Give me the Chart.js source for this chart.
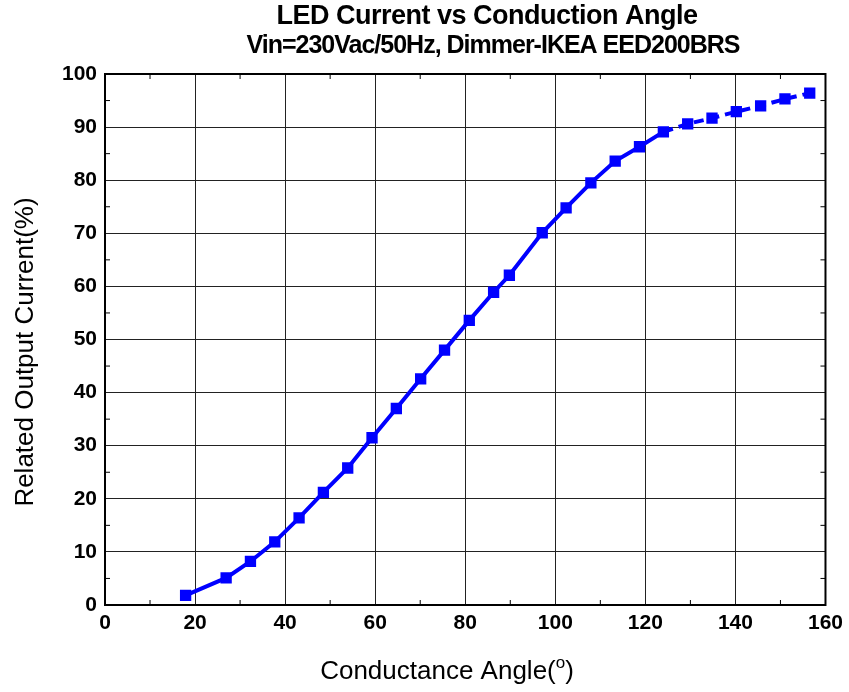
<!DOCTYPE html>
<html>
<head>
<meta charset="utf-8">
<script src="https://cdn.jsdelivr.net/npm/chart.js@4.4.1/dist/chart.umd.min.js"></script>
<style>
  html, body { margin: 0; padding: 0; background: #fff; }
  #wrap { width: 849px; height: 692px; }
</style>
</head>
<body>
<div id="wrap"><canvas id="chart" width="849" height="692"></canvas></div>
<script>
// values
const angle = [17.9, 26.9, 32.3, 37.7, 43.1, 48.5, 53.9, 59.3, 64.7, 70.1, 75.4, 80.9, 86.3,
  89.8, 97.1, 102.4, 107.9, 113.3, 118.7, 124.0, 129.4, 134.8, 140.2, 145.6, 151.0, 156.5];
const current = [1.8, 5.1, 8.2, 11.9, 16.4, 21.2, 25.8, 31.5, 37.0, 42.6, 48.0, 53.6, 58.9,
  62.1, 70.1, 74.8, 79.5, 83.6, 86.3, 89.1, 90.6, 91.7, 92.9, 94.0, 95.3, 96.4];
const xTicks = [0, 20, 40, 60, 80, 100, 120, 140, 160];
const yTicks = [0, 10, 20, 30, 40, 50, 60, 70, 80, 90, 100];
const titleLines = ["LED Current vs Conduction Angle", "Vin=230Vac/50Hz, Dimmer-IKEA EED200BRS"];
const xTitle = ["Conductance Angle(", "o", ")"];
const yTitle = "Related Output Current(%)";
const dashFrom = 124; // line turns dashed after this angle

const FONT = "'Liberation Sans', Arial, sans-serif";

// titles + box frame + small inward ticks
const framePlugin = {
  id: "frame",
  beforeDatasetsDraw(chart) {
    const { ctx, chartArea: a, scales } = chart;
    ctx.save();
    ctx.strokeStyle = "#000";
    ctx.lineWidth = 1;
    ctx.beginPath();
    for (let v = 10; v < 160; v += 20) {
      const px = scales.x.getPixelForValue(v);
      ctx.moveTo(px, a.bottom); ctx.lineTo(px, a.bottom - 5);
      ctx.moveTo(px, a.top); ctx.lineTo(px, a.top + 5);
    }
    for (let v = 5; v < 100; v += 10) {
      const py = scales.y.getPixelForValue(v);
      ctx.moveTo(a.left, py); ctx.lineTo(a.left + 5, py);
      ctx.moveTo(a.right, py); ctx.lineTo(a.right - 5, py);
    }
    ctx.stroke();
    ctx.lineWidth = 2;
    ctx.strokeRect(a.left, a.top, a.right - a.left, a.bottom - a.top);
    ctx.restore();
  },
  afterDraw(chart) {
    const ctx = chart.ctx;
    ctx.save();
    ctx.fillStyle = "#000";
    ctx.textBaseline = "middle";

    // main title (tight letters like the original)
    ctx.textAlign = "center";
    ctx.letterSpacing = "-0.5px";
    ctx.font = "bold 27px " + FONT;
    ctx.fillText(titleLines[0], 487, 17);
    ctx.letterSpacing = "-1px";
    ctx.font = "bold 25px " + FONT;
    ctx.fillText(titleLines[1], 493, 46);
    ctx.letterSpacing = "0px";

    // x title with raised "o"
    ctx.textAlign = "left";
    ctx.font = "26px " + FONT;
    const w0 = ctx.measureText(xTitle[0]).width;
    ctx.font = "17px " + FONT;
    const w1 = ctx.measureText(xTitle[1]).width;
    ctx.font = "26px " + FONT;
    const w2 = ctx.measureText(xTitle[2]).width;
    let x = 447 - (w0 + w1 + w2) / 2;
    ctx.fillText(xTitle[0], x, 672);
    x += w0;
    ctx.font = "17px " + FONT;
    ctx.fillText(xTitle[1], x, 663);
    x += w1;
    ctx.font = "26px " + FONT;
    ctx.fillText(xTitle[2], x, 672);

    // y title
    ctx.translate(26, 352);
    ctx.rotate(-Math.PI / 2);
    ctx.textAlign = "center";
    ctx.fillText(yTitle, 0, 0);
    ctx.restore();
  }
};

const tickFont = { family: FONT, size: 21, weight: "bold" };

new Chart(document.getElementById("chart").getContext("2d"), {
  type: "line",
  data: {
    datasets: [{
      data: angle.map((a, i) => ({ x: a, y: current[i] })),
      borderColor: "#0000ff",
      backgroundColor: "#0000ff",
      borderWidth: 4,
      pointStyle: "rect",
      pointRadius: 8,
      pointHoverRadius: 8,
      pointBorderWidth: 0,
      tension: 0,
      segment: {
        borderDash: (c) => (c.p0.parsed.x >= dashFrom ? [10, 6] : undefined)
      }
    }]
  },
  options: {
    responsive: false,
    animation: false,
    layout: { padding: { top: 74, right: 22, bottom: 4, left: 0 } },
    plugins: { legend: { display: false }, tooltip: { enabled: false } },
    scales: {
      x: {
        type: "linear",
        min: xTicks[0],
        max: xTicks[xTicks.length - 1],
        afterBuildTicks: (s) => { s.ticks = xTicks.map((v) => ({ value: v })); },
        afterFit: (s) => { s.height = 83; },
        grid: { color: "#222", lineWidth: 1, drawTicks: false },
        border: { display: false },
        ticks: { color: "#000", padding: 6, font: tickFont }
      },
      y: {
        type: "linear",
        min: yTicks[0],
        max: yTicks[yTicks.length - 1],
        afterBuildTicks: (s) => { s.ticks = yTicks.map((v) => ({ value: v })); },
        afterFit: (s) => { s.width = 105; },
        grid: { color: "#222", lineWidth: 1, drawTicks: false },
        border: { display: false },
        ticks: { color: "#000", padding: 8, font: tickFont }
      }
    }
  },
  plugins: [framePlugin]
});
</script>
</body>
</html>
